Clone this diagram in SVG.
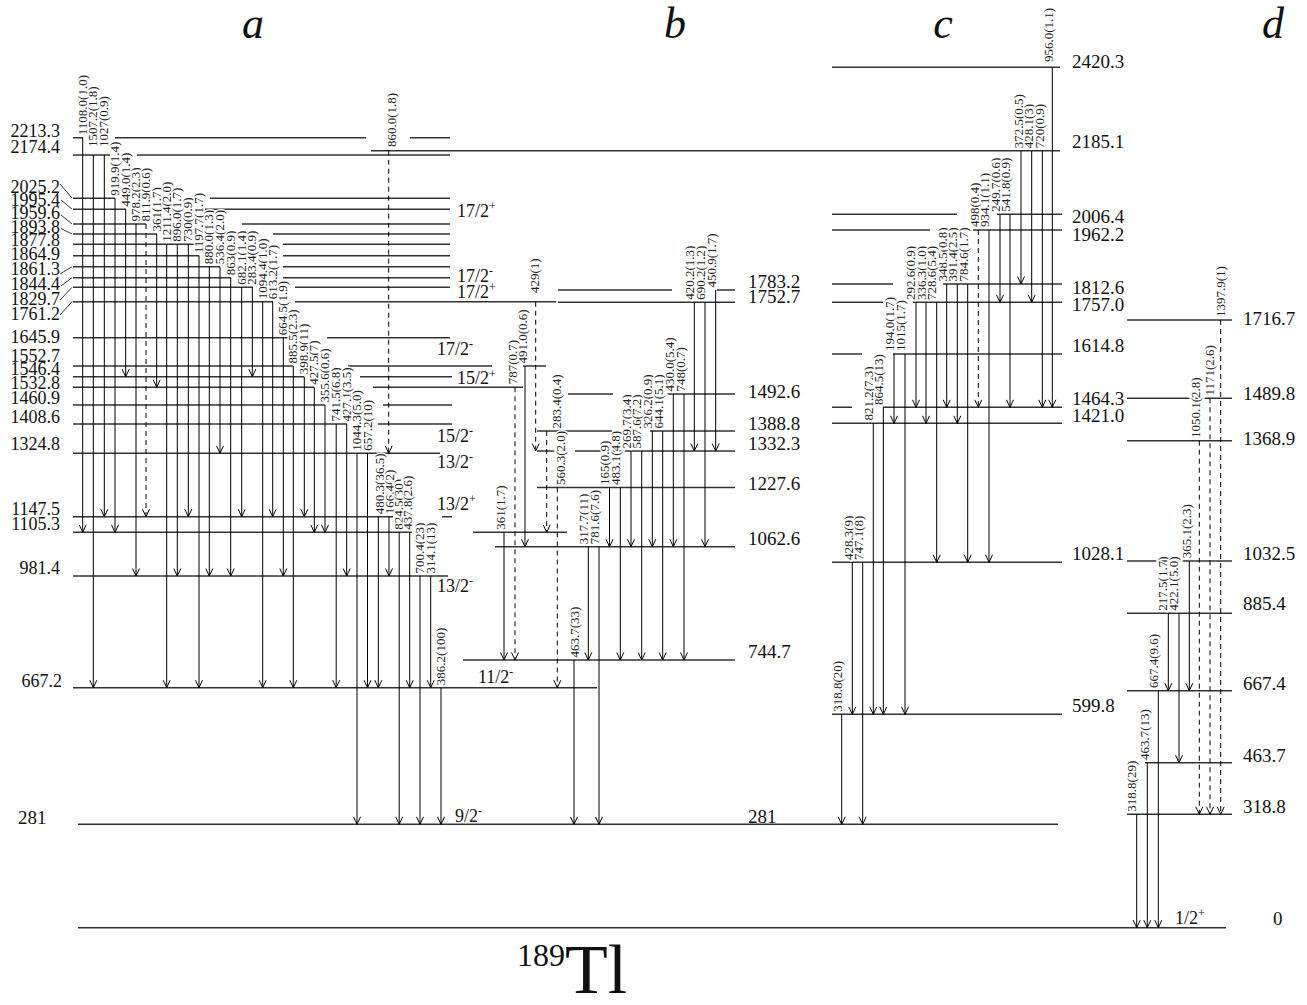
<svg xmlns="http://www.w3.org/2000/svg" width="1307" height="1005" viewBox="0 0 1307 1005">
<style>
.lv{stroke:#333;stroke-width:1.5;fill:none}
.t{stroke:#000;stroke-width:1;fill:none;marker-end:url(#ah)}
.d{stroke-dasharray:5 4}
.tk{stroke:#333;stroke-width:1;fill:none}
.tl{font-family:"Liberation Serif",serif;font-size:13px;fill:#222;stroke:#fff;stroke-width:3;paint-order:stroke}
.ll{font-family:"Liberation Serif",serif;font-size:19px;fill:#111}
.la{text-anchor:end;font-size:18px}
.sp{font-family:"Liberation Serif",serif;font-size:18px;fill:#111}
.sup{font-size:12px}
.hd{font-family:"Liberation Serif",serif;font-style:italic;font-size:44px;text-anchor:middle;fill:#111}
</style>
<defs>
<marker id="ah" viewBox="-10 -6 12 12" refX="0" refY="0" markerWidth="12" markerHeight="12" markerUnits="userSpaceOnUse" orient="auto">
<path d="M-7.5,-3.5 L0,0 L-7.5,3.5" fill="none" stroke="#000" stroke-width="1"/>
</marker>
</defs>
<rect width="1307" height="1005" fill="#fff"/>

<g id="headers">
<text class="hd" x="253" y="38">a</text>
<text class="hd" x="675" y="38">b</text>
<text class="hd" x="943" y="38">c</text>
<text class="hd" x="1273" y="38">d</text>
</g>

<g id="levels-a">
<g id="a2213"><path class="lv" d="M73 137.7H83M115 137.7H366M410 137.7H450"/><text class="ll la" x="60" y="136.5">2213.3</text></g>
<g id="a2174"><path class="lv" d="M73 155H110M137 155H450"/><text class="ll la" x="60" y="153">2174.4</text></g>
<g id="a2025"><path class="lv" d="M73 198.3H115M210 198.3H450"/><path class="tk" d="M60 184L72 198"/><text class="ll la" x="60" y="192.5">2025.2</text></g>
<g id="a1995"><path class="lv" d="M73 209.3H126M205 209.3H450"/><path class="tk" d="M61 200L72 209"/><text class="ll la" x="60" y="205.5">1995.4</text></g>
<g id="a1959"><path class="lv" d="M73 224H146M242 224H450"/><path class="tk" d="M61 215L72 224"/><text class="ll la" x="60" y="219">1959.6</text></g>
<g id="a1893"><path class="lv" d="M73 234H157M273 234H450"/><path class="tk" d="M61 228.5L72 234"/><text class="ll la" x="60" y="232.5">1893.8</text></g>
<g id="a1877"><path class="lv" d="M73 244.3H200M283 244.3H450"/><text class="ll la" x="60" y="246">1877.8</text></g>
<g id="a1864"><path class="lv" d="M73 255.7H199M283 255.7H450"/><text class="ll la" x="60" y="259.5">1864.9</text></g>
<g id="a1861"><path class="lv" d="M73 266.7H220M283 266.7H450"/><path class="tk" d="M60 274L72 266.7"/><text class="ll la" x="60" y="275">1861.3</text></g>
<g id="a1844"><path class="lv" d="M73 277.7H231M283 277.7H450"/><path class="tk" d="M61 286L72 277.7"/><text class="ll la" x="60" y="290">1844.4</text></g>
<g id="a1829"><path class="lv" d="M73 287.3H253M295 287.3H450"/><path class="tk" d="M60 300L72 287.3"/><text class="ll la" x="60" y="305">1829.7</text></g>
<g id="a1761"><path class="lv" d="M73 301.7H273M295 301.7H556"/><path class="tk" d="M60 315L72 301.7"/><text class="ll la" x="60" y="320">1761.2</text></g>
<g id="a1645"><path class="lv" d="M73 337.7H290M327 337.7H450"/><text class="ll la" x="60" y="343">1645.9</text></g>
<g id="a1552"><path class="lv" d="M73 366H293M348 366H492M523 366H546"/><text class="ll la" x="60" y="361.5">1552.7</text></g>
<g id="a1546"><path class="lv" d="M73 376.7H304M360 376.7H452"/><text class="ll la" x="60" y="375">1546.4</text></g>
<g id="a1532"><path class="lv" d="M73 387.3H314M373 387.3H523"/><text class="ll la" x="60" y="389">1532.8</text></g>
<g id="a1460"><path class="lv" d="M73 405H325M383 405H452"/><text class="ll la" x="60" y="404">1460.9</text></g>
<g id="a1408"><path class="lv" d="M73 424H347M378 424H452"/><text class="ll la" x="60" y="423">1408.6</text></g>
<g id="a1324"><path class="lv" d="M73 453.3H440"/><text class="ll la" x="60" y="450">1324.8</text></g>
<g id="a1147"><path class="lv" d="M73 516.7H393M442 516.7H452"/><text class="ll la" x="60" y="515">1147.5</text></g>
<g id="a1105"><path class="lv" d="M73 532.3H412M473 532.3H567"/><text class="ll la" x="60" y="530">1105.3</text></g>
<g id="a981"><path class="lv" d="M73 576H448"/><text class="ll la" x="60" y="574">981.4</text></g>
<g id="a667"><path class="lv" d="M73 687.7H597"/><text class="ll la" x="62" y="687">667.2</text></g>
<g id="l281"><path class="lv" d="M78 824.3H1058"/><text class="ll" x="18" y="824">281</text><text class="ll" x="748" y="823">281</text></g>
<g id="l0"><path class="lv" d="M78 927.7H1226"/><text class="ll" x="1273" y="925">0</text></g>
</g>

<g id="spins">
<text class="sp" x="457" y="217">17/2<tspan class="sup" dy="-7">+</tspan></text>
<text class="sp" x="457" y="282">17/2<tspan class="sup" dy="-7">-</tspan></text>
<text class="sp" x="457" y="298">17/2<tspan class="sup" dy="-7">+</tspan></text>
<text class="sp" x="437" y="355">17/2<tspan class="sup" dy="-7">-</tspan></text>
<text class="sp" x="457" y="383.5" font-size="15">15/2<tspan class="sup" dy="-6">+</tspan></text>
<text class="sp" x="437" y="442">15/2<tspan class="sup" dy="-7">-</tspan></text>
<text class="sp" x="437" y="468">13/2<tspan class="sup" dy="-7">-</tspan></text>
<text class="sp" x="437" y="510">13/2<tspan class="sup" dy="-7">+</tspan></text>
<text class="sp" x="437" y="592">13/2<tspan class="sup" dy="-7">-</tspan></text>
<text class="sp" x="478" y="683">11/2<tspan class="sup" dy="-7">-</tspan></text>
<text class="sp" x="455" y="822">9/2<tspan class="sup" dy="-7">-</tspan></text>
<text class="sp" x="1175" y="924">1/2<tspan class="sup" dy="-7">+</tspan></text>
</g>

<g id="levels-b">
<g id="b1783"><path class="lv" d="M558 290H672M717 290H735"/><text class="ll" x="748" y="288">1783.2</text></g>
<g id="b1752"><path class="lv" d="M558 302.3H735"/><text class="ll" x="748" y="303">1752.7</text></g>
<g id="b1492"><path class="lv" d="M568 394H613M667 394H735"/><text class="ll" x="748" y="398">1492.6</text></g>
<g id="b1388"><path class="lv" d="M537 431H612M650 431H735"/><text class="ll" x="748" y="430">1388.8</text></g>
<g id="b1332"><path class="lv" d="M537 451H556M575 451H735"/><text class="ll" x="748" y="450">1332.3</text></g>
<g id="b1227"><path class="lv" d="M537 487.5H735"/><text class="ll" x="748" y="490">1227.6</text></g>
<g id="b1062"><path class="lv" d="M495 546.7H735"/><text class="ll" x="748" y="545">1062.6</text></g>
<g id="b744"><path class="lv" d="M463 660H735"/><text class="ll" x="748" y="658">744.7</text></g>
</g>

<g id="levels-c">
<g id="c2420"><path class="lv" d="M832 67.3H1060"/><text class="ll" x="1072" y="68">2420.3</text></g>
<g id="c2185"><path class="lv" d="M371 150.7H1060"/><text class="ll" x="1072" y="148">2185.1</text></g>
<g id="c2006"><path class="lv" d="M832 214.3H957M997 214.3H1062"/><text class="ll" x="1072" y="223">2006.4</text></g>
<g id="c1962"><path class="lv" d="M832 230H930M973 230H1062"/><text class="ll" x="1072" y="241">1962.2</text></g>
<g id="c1812"><path class="lv" d="M832 284H893M943 284H1062"/><text class="ll" x="1072" y="294">1812.6</text></g>
<g id="c1757"><path class="lv" d="M832 302.3H883M913 302.3H1062"/><text class="ll" x="1072" y="311">1757.0</text></g>
<g id="c1614"><path class="lv" d="M832 354H862M893 354H1062"/><text class="ll" x="1072" y="352">1614.8</text></g>
<g id="c1464"><path class="lv" d="M832 407.3H852M883 407.3H1062"/><text class="ll" x="1072" y="405">1464.3</text></g>
<g id="c1421"><path class="lv" d="M832 423.3H1062"/><text class="ll" x="1072" y="422">1421.0</text></g>
<g id="c1028"><path class="lv" d="M832 562.3H1062"/><text class="ll" x="1072" y="560">1028.1</text></g>
<g id="c599"><path class="lv" d="M832 714.3H1062"/><text class="ll" x="1072" y="712">599.8</text></g>
</g>

<g id="levels-d">
<g id="d1716"><path class="lv" d="M1127 320H1232"/><text class="ll" x="1243" y="325">1716.7</text></g>
<g id="d1489"><path class="lv" d="M1127 398.3H1232"/><text class="ll" x="1243" y="400">1489.8</text></g>
<g id="d1368"><path class="lv" d="M1127 440.7H1232"/><text class="ll" x="1243" y="445">1368.9</text></g>
<g id="d1032"><path class="lv" d="M1127 561H1232"/><text class="ll" x="1243" y="560">1032.5</text></g>
<g id="d885"><path class="lv" d="M1127 613.3H1232"/><text class="ll" x="1243" y="610">885.4</text></g>
<g id="d667"><path class="lv" d="M1127 690.7H1232"/><text class="ll" x="1243" y="690">667.4</text></g>
<g id="d463"><path class="lv" d="M1145 762.7H1232"/><text class="ll" x="1243" y="762">463.7</text></g>
<g id="d318"><path class="lv" d="M1127 814.3H1232"/><text class="ll" x="1243" y="813">318.8</text></g>
</g>

<g id="connectors">
<line class="t" x1="82.7" y1="137.7" x2="82.7" y2="532.3"/>
<line class="t" x1="93.3" y1="155" x2="93.3" y2="687.7"/>
<line class="t" x1="104.3" y1="155" x2="104.3" y2="516.7"/>
<line class="t" x1="115" y1="198.3" x2="115" y2="532.3"/>
<line class="t" x1="125.7" y1="209.3" x2="125.7" y2="376.7"/>
<line class="t" x1="136" y1="224" x2="136" y2="576"/>
<line class="t d" x1="146" y1="224" x2="146" y2="516.7"/>
<line class="t" x1="156.7" y1="234" x2="156.7" y2="387.3"/>
<line class="t" x1="166.7" y1="244.3" x2="166.7" y2="687.7"/>
<line class="t" x1="177.3" y1="244.3" x2="177.3" y2="576"/>
<line class="t" x1="188.3" y1="244.3" x2="188.3" y2="516.7"/>
<line class="t" x1="199" y1="255.7" x2="199" y2="687.7"/>
<line class="t" x1="209.3" y1="266.7" x2="209.3" y2="576"/>
<line class="t" x1="220" y1="266.7" x2="220" y2="453.3"/>
<line class="t" x1="230.7" y1="277.7" x2="230.7" y2="576"/>
<line class="t" x1="241.7" y1="287.3" x2="241.7" y2="516.7"/>
<line class="t" x1="252.3" y1="287.3" x2="252.3" y2="376.7"/>
<line class="t" x1="262.7" y1="301.7" x2="262.7" y2="687.7"/>
<line class="t" x1="272.7" y1="301.7" x2="272.7" y2="516.7"/>
<line class="t" x1="283.3" y1="337.7" x2="283.3" y2="576"/>
<line class="t" x1="293.3" y1="366" x2="293.3" y2="687.7"/>
<line class="t" x1="304.3" y1="376.7" x2="304.3" y2="516.7"/>
<line class="t" x1="314.3" y1="387.3" x2="314.3" y2="532.3"/>
<line class="t" x1="325" y1="405" x2="325" y2="532.3"/>
<line class="t" x1="336.2" y1="424" x2="336.2" y2="687.7"/>
<line class="t" x1="346.7" y1="424" x2="346.7" y2="576"/>
<line class="t" x1="357" y1="453.3" x2="357" y2="824.3"/>
<line class="t" x1="367.5" y1="453.3" x2="367.5" y2="687.7"/>
<line class="t" x1="378.3" y1="516.7" x2="378.3" y2="687.7"/>
<line class="t" x1="389" y1="516.7" x2="389" y2="576"/>
<line class="t" x1="399.2" y1="532.3" x2="399.2" y2="824.3"/>
<line class="t" x1="409.7" y1="532.3" x2="409.7" y2="687.7"/>
<line class="t" x1="420" y1="576" x2="420" y2="824.3"/>
<line class="t" x1="430.7" y1="576" x2="430.7" y2="687.7"/>
<line class="t" x1="441" y1="687.7" x2="441" y2="824.3"/>
<line class="t d" x1="388.7" y1="150.7" x2="388.7" y2="453.3"/>

<line class="t" x1="504" y1="532.3" x2="504" y2="660"/>
<line class="t d" x1="515" y1="387.3" x2="515" y2="660"/>
<line class="t" x1="525" y1="366" x2="525" y2="546.7"/>
<line class="t d" x1="535.7" y1="301.7" x2="535.7" y2="451"/>
<line class="t d" x1="546.7" y1="431" x2="546.7" y2="532.3"/>
<line class="t d" x1="557.3" y1="487.5" x2="557.3" y2="687.7"/>
<line class="t" x1="574" y1="660" x2="574" y2="824.3"/>
<line class="t" x1="588.3" y1="546.7" x2="588.3" y2="660"/>
<line class="t" x1="599" y1="546.7" x2="599" y2="824.3"/>
<line class="t" x1="609.5" y1="487.5" x2="609.5" y2="546.7"/>
<line class="t" x1="620.3" y1="487.5" x2="620.3" y2="660"/>
<line class="t" x1="631" y1="451" x2="631" y2="546.7"/>
<line class="t" x1="641.7" y1="451" x2="641.7" y2="660"/>
<line class="t" x1="652.3" y1="431" x2="652.3" y2="546.7"/>
<line class="t" x1="662.7" y1="431" x2="662.7" y2="660"/>
<line class="t" x1="673.3" y1="394" x2="673.3" y2="546.7"/>
<line class="t" x1="684" y1="394" x2="684" y2="660"/>
<line class="t" x1="694.3" y1="302.3" x2="694.3" y2="451"/>
<line class="t" x1="705" y1="302.3" x2="705" y2="546.7"/>
<line class="t" x1="715.7" y1="290" x2="715.7" y2="451"/>

<line class="t" x1="1052.3" y1="67.3" x2="1052.3" y2="407.3"/>
<line class="t" x1="1021" y1="150.7" x2="1021" y2="284"/>
<line class="t" x1="1031.7" y1="150.7" x2="1031.7" y2="302.3"/>
<line class="t" x1="1042.3" y1="150.7" x2="1042.3" y2="407.3"/>
<line class="t d" x1="978.3" y1="230" x2="978.3" y2="407.3"/>
<line class="t" x1="989" y1="230" x2="989" y2="562.3"/>
<line class="t" x1="1000" y1="214.3" x2="1000" y2="302.3"/>
<line class="t" x1="1010" y1="214.3" x2="1010" y2="407.3"/>
<line class="t" x1="946.7" y1="284" x2="946.7" y2="407.3"/>
<line class="t" x1="957.3" y1="284" x2="957.3" y2="423.3"/>
<line class="t" x1="967.7" y1="284" x2="967.7" y2="562.3"/>
<line class="t" x1="916" y1="302.3" x2="916" y2="407.3"/>
<line class="t" x1="926" y1="302.3" x2="926" y2="423.3"/>
<line class="t" x1="936.7" y1="302.3" x2="936.7" y2="562.3"/>
<line class="t" x1="894" y1="354" x2="894" y2="423.3"/>
<line class="t" x1="905" y1="354" x2="905" y2="714.3"/>
<line class="t" x1="873.3" y1="423.3" x2="873.3" y2="714.3"/>
<line class="t" x1="883.3" y1="407.3" x2="883.3" y2="714.3"/>
<line class="t" x1="852.3" y1="562.3" x2="852.3" y2="714.3"/>
<line class="t" x1="862.7" y1="562.3" x2="862.7" y2="824.3"/>
<line class="t" x1="841.7" y1="714.3" x2="841.7" y2="824.3"/>

<line class="t d" x1="1220.7" y1="320" x2="1220.7" y2="814.3"/>
<line class="t d" x1="1210" y1="398.3" x2="1210" y2="814.3"/>
<line class="t d" x1="1199.3" y1="440.7" x2="1199.3" y2="814.3"/>
<line class="t" x1="1189.3" y1="561" x2="1189.3" y2="690.7"/>
<line class="t" x1="1168.3" y1="613.3" x2="1168.3" y2="690.7"/>
<line class="t" x1="1179" y1="613.3" x2="1179" y2="762.7"/>
<line class="t" x1="1158.3" y1="690.7" x2="1158.3" y2="927.7"/>
<line class="t" x1="1147.3" y1="762.7" x2="1147.3" y2="927.7"/>
<line class="t" x1="1136.7" y1="814.3" x2="1136.7" y2="927.7"/>

<g id="gamma-labels">
<text class="tl" transform="translate(86.7 135.2) rotate(-90)">1108.0(1.0)</text>
<text class="tl" transform="translate(97.3 147) rotate(-90)">1507.2(1.8)</text>
<text class="tl" transform="translate(108.3 147) rotate(-90)">1027(0.9)</text>
<text class="tl" transform="translate(119 195.8) rotate(-90)">919.9(1.4)</text>
<text class="tl" transform="translate(129.7 206.8) rotate(-90)">449.0(1.4)</text>
<text class="tl" transform="translate(140 221.5) rotate(-90)">978.2(2.3)</text>
<text class="tl" transform="translate(150 221.5) rotate(-90)">811.9(0.6)</text>
<text class="tl" transform="translate(160.7 231.5) rotate(-90)">361(1.7)</text>
<text class="tl" transform="translate(170.7 241.8) rotate(-90)">1211.4(2.0)</text>
<text class="tl" transform="translate(181.3 241.8) rotate(-90)">896.0(1.7)</text>
<text class="tl" transform="translate(192.3 241.8) rotate(-90)">730(0.9)</text>
<text class="tl" transform="translate(203 253.2) rotate(-90)">1197.7(1.7)</text>
<text class="tl" transform="translate(213.3 264.2) rotate(-90)">880.0(1.3)</text>
<text class="tl" transform="translate(224 264.2) rotate(-90)">536.4(2.0)</text>
<text class="tl" transform="translate(234.7 275.2) rotate(-90)">863(0.9)</text>
<text class="tl" transform="translate(245.7 284.8) rotate(-90)">682.1(1.4)</text>
<text class="tl" transform="translate(256.3 284.8) rotate(-90)">283.4(0.9)</text>
<text class="tl" transform="translate(266.7 299.2) rotate(-90)">1094.4(1.0)</text>
<text class="tl" transform="translate(276.7 299.2) rotate(-90)">613.2(1.7)</text>
<text class="tl" transform="translate(287.3 335.2) rotate(-90)">664.5(1.9)</text>
<text class="tl" transform="translate(297.3 363.5) rotate(-90)">885.5(2.3)</text>
<text class="tl" transform="translate(308.3 374.2) rotate(-90)">398.9(11)</text>
<text class="tl" transform="translate(318.3 384.8) rotate(-90)">427.5(7)</text>
<text class="tl" transform="translate(329 402.5) rotate(-90)">355.6(0.6)</text>
<text class="tl" transform="translate(340.2 421.5) rotate(-90)">741.5(6.8)</text>
<text class="tl" transform="translate(350.7 421.5) rotate(-90)">427.1(3.5)</text>
<text class="tl" transform="translate(361 450.8) rotate(-90)">1044.3(5.0)</text>
<text class="tl" transform="translate(371.5 450.8) rotate(-90)">657.2(10)</text>
<text class="tl" transform="translate(384 514.2) rotate(-90)">480.3(36.5)</text>
<text class="tl" transform="translate(393.5 514.2) rotate(-90)">166.4(2)</text>
<text class="tl" transform="translate(402.5 529.8) rotate(-90)">824.5(30)</text>
<text class="tl" transform="translate(412 529.8) rotate(-90)">437.8(2.6)</text>
<text class="tl" transform="translate(424 573.5) rotate(-90)">700.4(23)</text>
<text class="tl" transform="translate(434.7 573.5) rotate(-90)">314.1(13)</text>
<text class="tl" transform="translate(444.5 685.2) rotate(-90)">386.2(100)</text>
<text class="tl" transform="translate(396 147) rotate(-90)">860.0(1.8)</text>

<text class="tl" transform="translate(505 529.8) rotate(-90)">361(1.7)</text>
<text class="tl" transform="translate(517 384.3) rotate(-90)">787(0.7)</text>
<text class="tl" transform="translate(527.3 363.5) rotate(-90)">491.0(0.6)</text>
<text class="tl" transform="translate(539.2 293) rotate(-90)">429(1)</text>
<text class="tl" transform="translate(560.5 428.5) rotate(-90)">283.4(0.4)</text>
<text class="tl" transform="translate(564.5 485) rotate(-90)">560.3(2.0)</text>
<text class="tl" transform="translate(579 657.5) rotate(-90)">463.7(33)</text>
<text class="tl" transform="translate(587.5 544.2) rotate(-90)">317.7(11)</text>
<text class="tl" transform="translate(598.5 544.2) rotate(-90)">781.6(7.6)</text>
<text class="tl" transform="translate(608.5 485) rotate(-90)">165(0.9)</text>
<text class="tl" transform="translate(620 485) rotate(-90)">483.1(4.8)</text>
<text class="tl" transform="translate(630.5 448.5) rotate(-90)">269.7(3.4)</text>
<text class="tl" transform="translate(641 448.5) rotate(-90)">587.6(7.2)</text>
<text class="tl" transform="translate(652 428.5) rotate(-90)">326.2(0.9)</text>
<text class="tl" transform="translate(662.5 428.5) rotate(-90)">644.1(5.1)</text>
<text class="tl" transform="translate(673.5 391.5) rotate(-90)">430.0(5.4)</text>
<text class="tl" transform="translate(684.5 391.5) rotate(-90)">748(0.7)</text>
<text class="tl" transform="translate(693.5 299.8) rotate(-90)">420.2(1.3)</text>
<text class="tl" transform="translate(705 299.8) rotate(-90)">690.2(1.2)</text>
<text class="tl" transform="translate(716 287.5) rotate(-90)">450.9(1.7)</text>

<text class="tl" transform="translate(1053 62) rotate(-90)">956.0(1.1)</text>
<text class="tl" transform="translate(1022.5 148.3) rotate(-90)">372.5(0.5)</text>
<text class="tl" transform="translate(1033 148.3) rotate(-90)">428.1(3)</text>
<text class="tl" transform="translate(1043.5 148.3) rotate(-90)">720(0.9)</text>
<text class="tl" transform="translate(978.5 227) rotate(-90)">498(0.4)</text>
<text class="tl" transform="translate(988.5 227) rotate(-90)">934.1(1.1)</text>
<text class="tl" transform="translate(999.5 211.8) rotate(-90)">249.7(0.6)</text>
<text class="tl" transform="translate(1009.5 211.8) rotate(-90)">541.8(0.9)</text>
<text class="tl" transform="translate(946.5 281.5) rotate(-90)">348.5(0.8)</text>
<text class="tl" transform="translate(957 281.5) rotate(-90)">391.4(2.5)</text>
<text class="tl" transform="translate(967.5 281.5) rotate(-90)">784.6(1.7)</text>
<text class="tl" transform="translate(915 300) rotate(-90)">292.6(0.9)</text>
<text class="tl" transform="translate(925.5 300) rotate(-90)">336.3(1.0)</text>
<text class="tl" transform="translate(936 300) rotate(-90)">728.6(5.4)</text>
<text class="tl" transform="translate(894 351) rotate(-90)">194.0(1.7)</text>
<text class="tl" transform="translate(904.5 351) rotate(-90)">1015(1.7)</text>
<text class="tl" transform="translate(872.5 420.5) rotate(-90)">821.2(7.3)</text>
<text class="tl" transform="translate(883 405) rotate(-90)">864.5(13)</text>
<text class="tl" transform="translate(852.5 560) rotate(-90)">428.3(9)</text>
<text class="tl" transform="translate(862.5 560) rotate(-90)">747.1(8)</text>
<text class="tl" transform="translate(841.5 711.8) rotate(-90)">318.8(20)</text>

<text class="tl" transform="translate(1224.5 317) rotate(-90)">1397.9(1)</text>
<text class="tl" transform="translate(1214 395.5) rotate(-90)">1171(2.6)</text>
<text class="tl" transform="translate(1199.5 438) rotate(-90)">1050.1(2.8)</text>
<text class="tl" transform="translate(1191 558.3) rotate(-90)">365.1(2.3)</text>
<text class="tl" transform="translate(1167 610.7) rotate(-90)">217.5(1.7)</text>
<text class="tl" transform="translate(1177.5 610.7) rotate(-90)">422.1(5.0)</text>
<text class="tl" transform="translate(1157.5 688) rotate(-90)">667.4(9.6)</text>
<text class="tl" transform="translate(1148.5 760) rotate(-90)">463.7(13)</text>
<text class="tl" transform="translate(1136 811.7) rotate(-90)">318.8(29)</text>
</g>
</g>

<g id="nucleus">
<text font-family="'Liberation Serif',serif" font-size="32" x="517" y="966" fill="#111">189</text>
<text font-family="'Liberation Serif',serif" font-size="70" x="565" y="993" fill="#111">Tl</text>
</g>
</svg>
